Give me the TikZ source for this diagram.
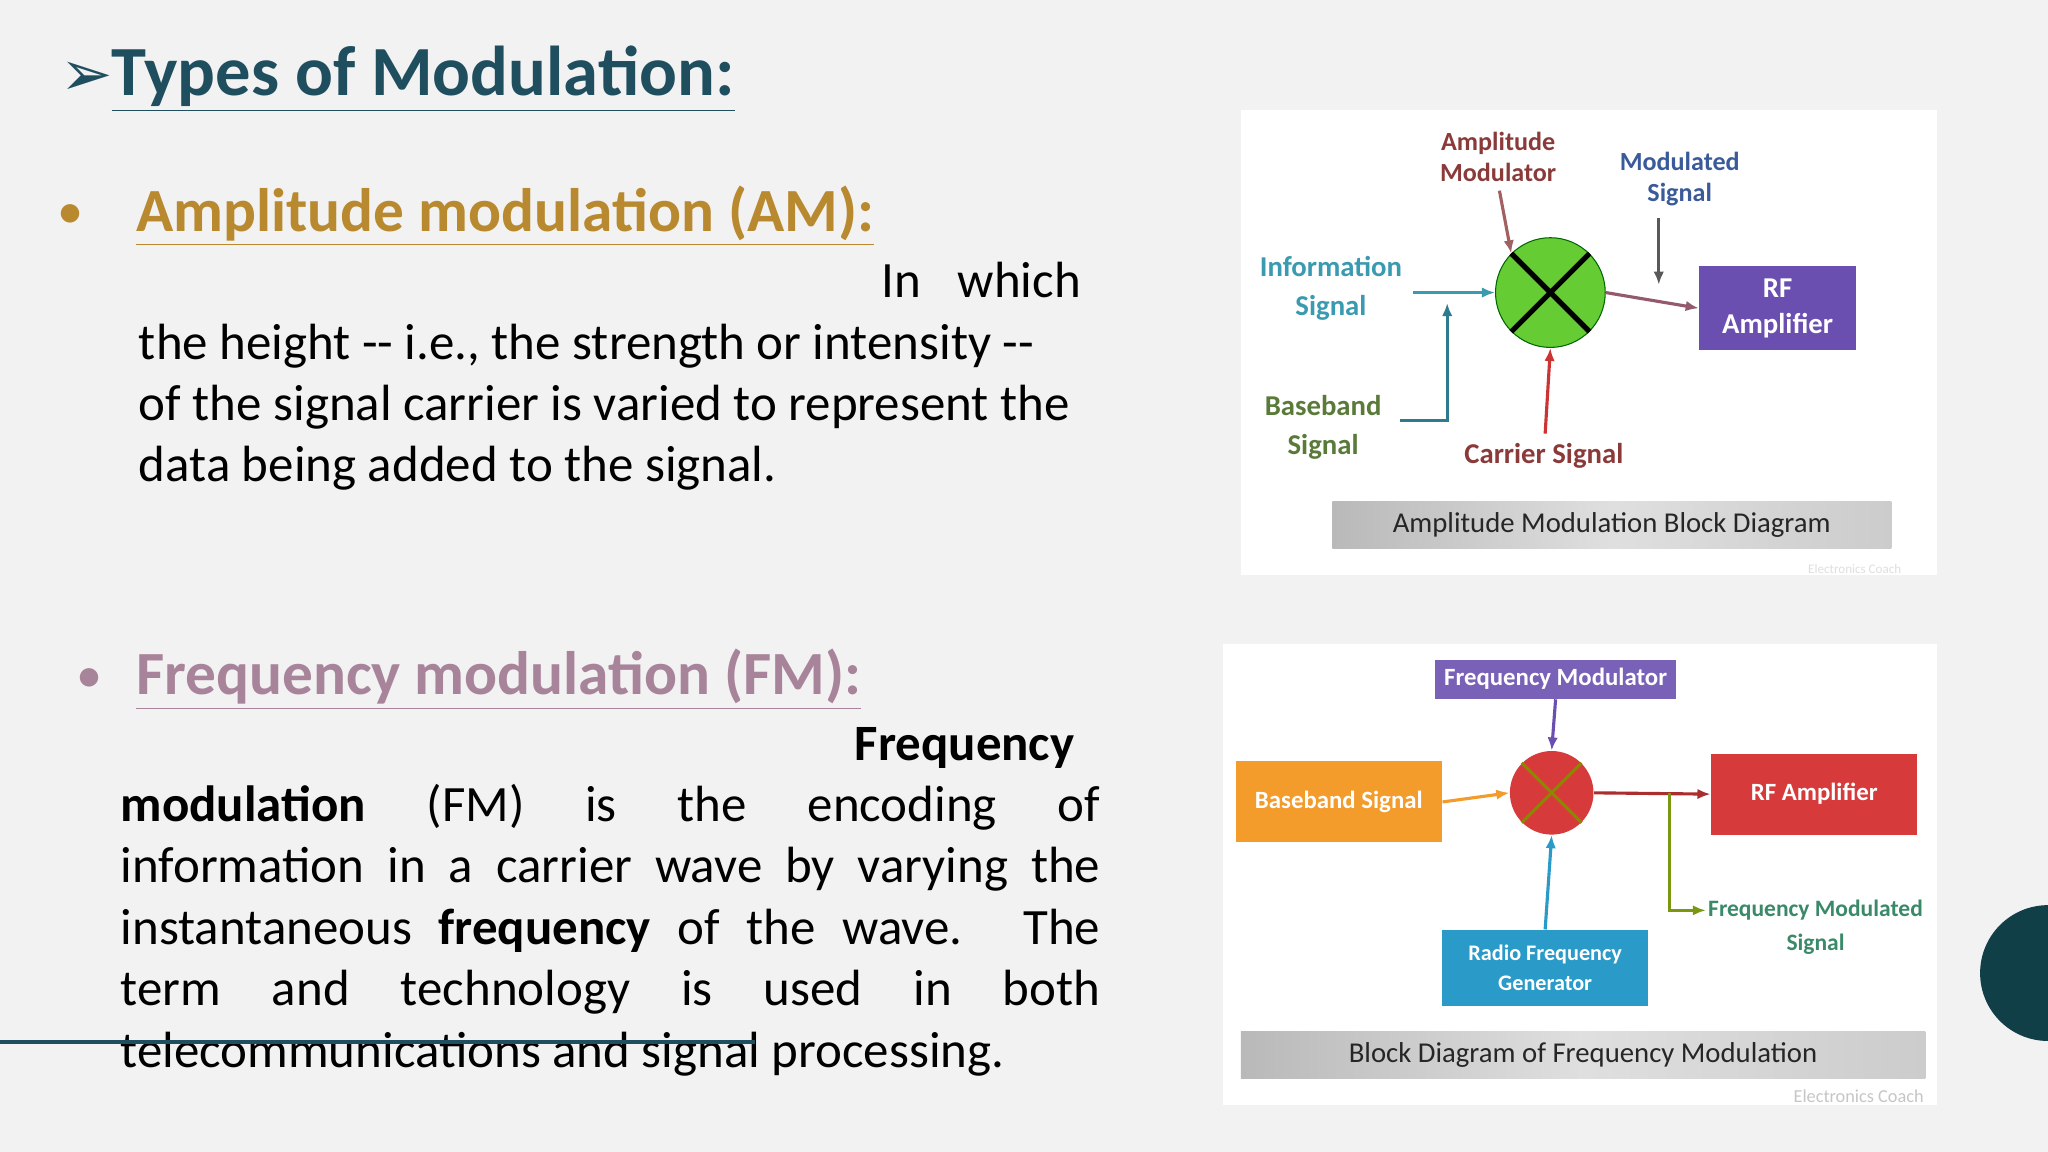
\documentclass[tikz,border=0pt]{standalone}
\usepackage{fontspec}
\setmainfont{Carlito}
\newfontfamily\djv{DejaVu Sans}
\usetikzlibrary{arrows.meta}
\definecolor{bg}{HTML}{F2F2F2}
\definecolor{teal}{HTML}{1F4E5F}
\definecolor{gold}{HTML}{B8892E}
\definecolor{mauve}{HTML}{A8849A}
\definecolor{amred}{HTML}{8B3A3A}
\definecolor{amblue}{HTML}{3A5A9A}
\definecolor{infoc}{HTML}{3A9AB0}
\definecolor{baseg}{HTML}{5A7A3A}
\definecolor{purp}{HTML}{6A4FB0}
\definecolor{orng}{HTML}{F39C2C}
\definecolor{rfred}{HTML}{D63A3A}
\definecolor{rfblue}{HTML}{2A9AC8}
\definecolor{fmgreen}{HTML}{3A8A6A}
\tikzset{
 body/.style={anchor=base west,inner sep=0,font=\fontsize{19.5}{23}\selectfont},
 lab/.style={align=center,font=\fontsize{10}{12}\selectfont\bfseries,inner sep=0},
 arr/.style={-{Latex[length=5pt,width=4pt]},line width=1.2pt},
 blk/.style={draw=none,text=white,font=\fontsize{9.5}{11.5}\selectfont\bfseries,align=center},
 capbar/.style={left color=gray!55,right color=gray!40,middle color=gray!25,font=\fontsize{11}{13}\selectfont,text=black!85}
}
\begin{document}
\begin{tikzpicture}[x=0.5pt,y=-0.5pt]
\fill[bg] (0,0) rectangle (1568,882);
\useasboundingbox (0,0) rectangle (1568,882);
% title
\node (arrowg) [anchor=base west,inner sep=0,text=teal,font=\djv\fontsize{24}{26}\selectfont] at (46,73) {➢};
\node (title) [anchor=base west,inner sep=0,text=teal,font=\fontsize{27}{30}\selectfont\bfseries] at (85,73) {\underline{Types of Modulation:}};
% AM
\node (b1) [anchor=base west,inner sep=0,text=gold,font=\fontsize{20}{24}\selectfont] at (44,175) {•};
\node (amh) [anchor=base west,inner sep=0,text=gold,font=\fontsize{23.5}{26}\selectfont\bfseries] at (104,177) {\underline{Amplitude modulation (AM):}};
\node (am1) [body,anchor=base east] at (828,228) {In\hspace{14pt}which};
\node (am2) [body] at (106,275) {the height {-}{-} i.e., the strength or intensity {-}{-}};
\node (am3) [body] at (106,322) {of the signal carrier is varied to represent the};
\node (am4) [body] at (106,369) {data being added to the signal.};
% FM
\node (b2) [anchor=base west,inner sep=0,text=mauve,font=\fontsize{20}{24}\selectfont] at (58,530) {•};
\node (fmh) [anchor=base west,inner sep=0,text=mauve,font=\fontsize{23.5}{26}\selectfont\bfseries] at (104,532) {\underline{Frequency modulation (FM):}};
\node (fm0) [body,anchor=base east] at (823,582) {\textbf{Frequency}};
\node (fm1) [body] at (92,629) {\makebox[375pt][s]{\textbf{modulation} (FM) is the encoding of}};
\node (fm2) [body] at (92,676) {\makebox[375pt][s]{information in a carrier wave by varying the}};
\node (fm3) [body] at (92,723) {\makebox[375pt][s]{instantaneous \textbf{frequency} of the wave. The}};
\node (fm4) [body] at (92,770) {\makebox[375pt][s]{term and technology is used in both}};
\node (fm5) [body] at (92,817) {telecommunications and signal processing.};
\coordinate (l0) at (0,798); \coordinate (l1) at (578,798);
\draw[teal,line width=1.5pt] (l0) -- (l1);
\fill[teal!85!cyan!60!black] (1568,745) circle (52);
% AM diagram
\fill[white] (950,84) rectangle (1483,440);
\node (amod) [lab,text=amred] at (1147,120) {Amplitude\\Modulator};
\node (msig) [lab,text=amblue] at (1286,137) {Modulated\\Signal};
\node (info) [lab,text=infoc,font=\fontsize{11}{15}\selectfont\bfseries] at (1019,221) {Information\\Signal};
\node (bb) [lab,text=baseg,font=\fontsize{11}{15}\selectfont\bfseries] at (1013,327) {Baseband\\Signal};
\node (car) [lab,text=amred,font=\fontsize{11}{13}\selectfont\bfseries] at (1182,349) {Carrier Signal};
\node (mix) [circle,fill=green!50!olive!80,draw=green!40!black,minimum size=42pt,inner sep=0] at (1187,224) {};
\draw[line width=2pt] (mix.north west) -- (mix.south east) (mix.north east) -- (mix.south west);
\node (rf) [blk,fill=purp,minimum width=60pt,minimum height=32pt,font=\fontsize{11}{14}\selectfont\bfseries] at (1361,236) {RF\\Amplifier};
\draw[arr,amred!80] (1148,146) -- (mix.north west);
\coordinate (ms) at (1270,167);
\draw[arr,gray!70!black] (ms) -- (1270,218);
\draw[arr,infoc] (1082,224) -- (mix.west);
\coordinate (bbe) at (1072,322);
\draw[arr,infoc!80!black,line width=1pt] (bbe) -- (1108,322) -- (1108,232);
\draw[arr,red!60!gray] (1183,332) -- (mix.south);
\draw[arr,gray!70!purple] (mix.east) -- (rf.west);
\node (amcap) [capbar,minimum width=214pt,minimum height=18pt] at (1234,402) {Amplitude Modulation Block Diagram};
\node (wm1) [text=gray!25,font=\fontsize{5}{6}\selectfont] at (1420,436) {Electronics Coach};
% FM diagram
\fill[white] (936,493) rectangle (1483,846);
\node (fmod) [blk,fill=purp!90,minimum width=87pt,minimum height=15pt] at (1191,520) {Frequency Modulator};
\node (mix2) [circle,fill=rfred,minimum size=32pt,inner sep=0] at (1188,607) {};
\draw[olive,line width=1.2pt] (mix2.north west) -- (mix2.south east) (mix2.north east) -- (mix2.south west);
\node (bbs) [blk,fill=orng,minimum width=79pt,minimum height=31pt] at (1025,614) {Baseband Signal};
\node (rfa) [blk,fill=rfred,minimum width=79pt,minimum height=31pt] at (1389,608) {RF Amplifier};
\node (rfg) [blk,fill=rfblue,minimum width=79pt,minimum height=29pt,font=\fontsize{8.5}{11.5}\selectfont\bfseries] at (1183,741) {Radio Frequency\\Generator};
\node (fms) [lab,text=fmgreen,font=\fontsize{9}{13}\selectfont\bfseries] at (1390,710) {Frequency Modulated\\Signal};
\draw[arr,purp] (fmod.south) -- (mix2.north);
\draw[arr,orng] (bbs.east) -- (mix2.west);
\draw[arr,rfred!80!black] (mix2.east) -- (rfa.west);
\coordinate (br) at (1278,607);
\draw[arr,olive!70!green] (br) -- (1278,697) -- (1306,697);
\draw[arr,rfblue] (rfg.north) -- (mix2.south);
\node (fmcap) [capbar,minimum width=262pt,minimum height=18pt] at (1212,808) {Block Diagram of Frequency Modulation};
\node (wm2) [text=gray!45,font=\fontsize{7}{8}\selectfont] at (1423,839) {Electronics Coach};
\end{tikzpicture}
\end{document}
